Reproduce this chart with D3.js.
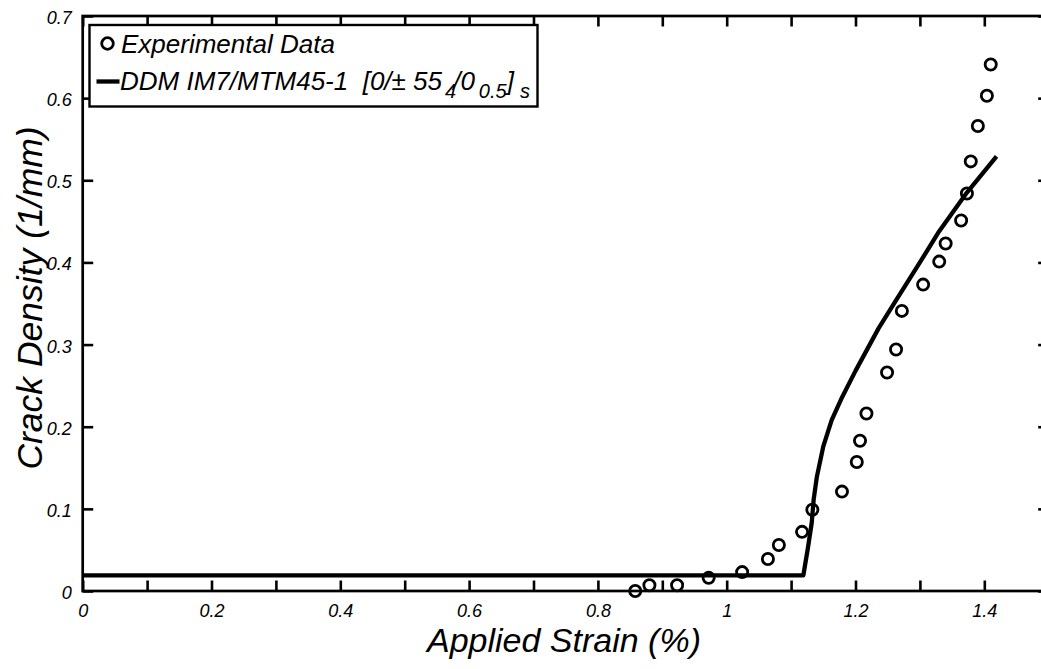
<!DOCTYPE html>
<html>
<head>
<meta charset="utf-8">
<script src="https://cdn.jsdelivr.net/npm/d3@7"></script>
<style>
  body { margin: 0; background: #fff; }
  svg { display: block; font-family: "Liberation Sans", Arial, sans-serif; }
  text { font-style: italic; }
</style>
</head>
<body>
<svg id="chart" width="1041" height="669"></svg>
<script>
// experimental crack density points
var expStrain  = [0.858, 0.880, 0.923, 0.972, 1.024, 1.064, 1.081, 1.117, 1.133, 1.179, 1.202, 1.207, 1.217,
                  1.249, 1.263, 1.272, 1.305, 1.330, 1.340, 1.364, 1.373, 1.379, 1.390, 1.404, 1.410];
var expDensity = [0.000, 0.007, 0.007, 0.016, 0.023, 0.039, 0.056, 0.072, 0.099, 0.121, 0.157, 0.183, 0.216,
                  0.266, 0.294, 0.341, 0.373, 0.401, 0.423, 0.451, 0.484, 0.523, 0.566, 0.603, 0.641];

// DDM model curve
var ddmStrain  = [0, 1.119, 1.126, 1.132, 1.135, 1.140, 1.150, 1.163, 1.178, 1.200, 1.236, 1.259, 1.300, 1.330, 1.373, 1.419];
var ddmDensity = [0.019, 0.019, 0.052, 0.083, 0.111, 0.139, 0.176, 0.208, 0.234, 0.268, 0.320, 0.349, 0.400, 0.438, 0.485, 0.529];

var xTickValues = [0, 0.2, 0.4, 0.6, 0.8, 1, 1.2, 1.4];
var xTickLabels = ["0", "0.2", "0.4", "0.6", "0.8", "1", "1.2", "1.4"];
var xMinorTicks = [0.1, 0.3, 0.5, 0.7, 0.9, 1.1, 1.3];
var yTickValues = [0, 0.1, 0.2, 0.3, 0.4, 0.5, 0.6, 0.7];
var yTickLabels = ["0", "0.1", "0.2", "0.3", "0.4", "0.5", "0.6", "0.7"];

var padL = 82.7, padR = 1048.7, padT = 16, padB = 591;

var svg = d3.select("#chart");
var x = d3.scaleLinear().domain([0, 1.5]).range([padL, padR]);
var y = d3.scaleLinear().domain([0, 0.7]).range([padB, padT]);

var allX = xTickValues.concat(xMinorTicks);

// bottom axis (inward ticks)
var gx = svg.append("g").attr("transform", "translate(0," + padB + ")")
  .call(d3.axisBottom(x).tickValues(allX).tickSize(-10.5).tickPadding(13)
    .tickFormat(function(d) { var i = xTickValues.indexOf(d); return i < 0 ? "" : xTickLabels[i]; }));
// top axis
var gt = svg.append("g").attr("transform", "translate(0," + padT + ")")
  .call(d3.axisTop(x).tickValues(allX).tickSize(-10.5).tickFormat(""));
// left axis
var gy = svg.append("g").attr("transform", "translate(" + padL + ",0)")
  .call(d3.axisLeft(y).tickValues(yTickValues).tickSize(-10.5).tickPadding(11)
    .tickFormat(function(d, i) { return yTickLabels[i]; }));
// right axis
var gr = svg.append("g").attr("transform", "translate(" + padR + ",0)")
  .call(d3.axisRight(y).tickValues(yTickValues).tickSize(-10.5).tickFormat(""));

[gx, gt, gy, gr].forEach(function(g) {
  g.attr("font-family", null).attr("font-size", null);
  g.select(".domain").remove();
  g.selectAll(".tick line").attr("stroke", "#000").attr("stroke-width", 2.6);
  g.selectAll(".tick text").attr("fill", "#000").style("font-size", "18px");
});
gy.selectAll(".tick text").attr("dy", "0.42em");

svg.append("rect")
  .attr("x", padL).attr("y", padT)
  .attr("width", padR - padL).attr("height", padB - padT)
  .attr("fill", "none").attr("stroke", "#000").attr("stroke-width", 2.7);

// model line
var line = d3.line().x(function(d) { return x(d[0]); }).y(function(d) { return y(d[1]); });
svg.append("path")
  .datum(d3.zip(ddmStrain, ddmDensity))
  .attr("d", line)
  .attr("fill", "none").attr("stroke", "#000").attr("stroke-width", 4.3)
  .attr("stroke-linejoin", "round");

// experimental circles
svg.selectAll("circle.exp")
  .data(d3.zip(expStrain, expDensity))
  .enter().append("circle")
  .attr("class", "exp")
  .attr("cx", function(d) { return x(d[0]); })
  .attr("cy", function(d) { return y(d[1]); })
  .attr("r", 5.6)
  .attr("fill", "none").attr("stroke", "#000").attr("stroke-width", 2.8);

// legend
var lg = svg.append("g");
lg.append("rect").attr("x", 89.5).attr("y", 25).attr("width", 448).attr("height", 81.5)
  .attr("fill", "#fff").attr("stroke", "#000").attr("stroke-width", 2.4);
lg.append("circle").attr("cx", 107.5).attr("cy", 43.5).attr("r", 5.8)
  .attr("fill", "none").attr("stroke", "#000").attr("stroke-width", 2.8);
lg.append("text").attr("x", 121).attr("y", 53).style("font-size", "26px").text("Experimental Data");
lg.append("line").attr("x1", 96.5).attr("x2", 119.5).attr("y1", 81.5).attr("y2", 81.5)
  .attr("stroke", "#000").attr("stroke-width", 4.3);
var t2 = lg.append("text").attr("x", 120).attr("y", 90).style("font-size", "26px");
t2.append("tspan").text("DDM IM7/MTM45-1\u00A0 [0/");
t2.append("tspan").style("font-style", "normal").text("\u00B1");
t2.append("tspan").text(" 55");
t2.append("tspan").attr("dx", 3).attr("dy", 8).style("font-size", "20px").text("4");
t2.append("tspan").attr("dx", -3).attr("dy", -8).text("/0");
t2.append("tspan").attr("dx", 4).attr("dy", 8).style("font-size", "20px").text("0.5");
t2.append("tspan").attr("dy", -8).text("]");
t2.append("tspan").attr("dx", 6).attr("dy", 8).style("font-size", "20px").text("s");

// axis titles
svg.append("text").attr("x", 564).attr("y", 652).attr("text-anchor", "middle")
  .style("font-size", "34px").text("Applied Strain (%)");
svg.append("text").attr("transform", "translate(42,298) rotate(-90)").attr("text-anchor", "middle")
  .style("font-size", "35.5px").text("Crack Density (1/mm)");
</script>
</body>
</html>
